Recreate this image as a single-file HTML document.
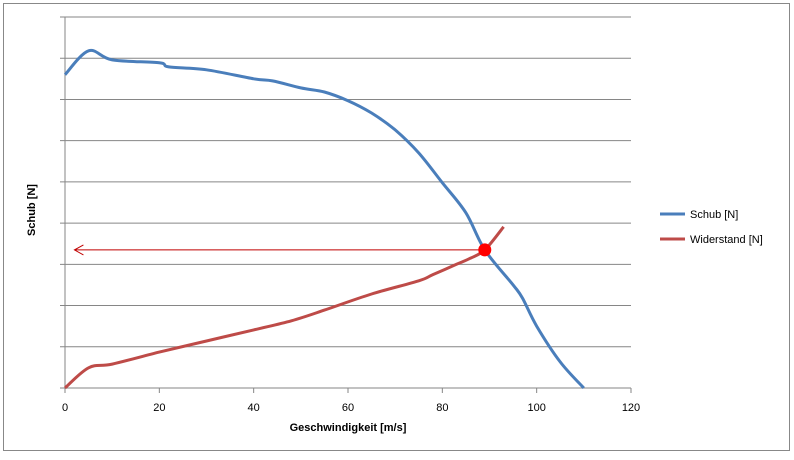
<!DOCTYPE html>
<html><head><meta charset="utf-8"><style>
body{margin:0;background:#fff;font-family:"Liberation Sans",sans-serif;}
svg text{font-family:"Liberation Sans",sans-serif;}
</style></head><body>
<svg width="794" height="455" xmlns="http://www.w3.org/2000/svg">
<rect x="3.5" y="3.5" width="786" height="447" fill="#fff" stroke="#888"/>
<g id="grid"></g>
<g id="xticks"></g>
<line x1="65" y1="17" x2="65" y2="388" stroke="#868686"/>
<text x="0" y="0" transform="translate(35,210) rotate(-90)" text-anchor="middle" font-size="11" font-weight="bold">Schub [N]</text>
<text x="348" y="431" text-anchor="middle" font-size="11" font-weight="bold">Geschwindigkeit  [m/s]</text>
<g id="series"></g>
<g>
<line x1="660" y1="214" x2="685" y2="214" stroke="#4a7ebb" stroke-width="3"/>
<text x="690" y="218" font-size="11">Schub [N]</text>
<line x1="660" y1="239" x2="685" y2="239" stroke="#be4b48" stroke-width="3"/>
<text x="690" y="243" font-size="11">Widerstand  [N]</text>
</g>
</svg>
<script>
const xTicks=[0,20,40,60,80,100,120];
const yGridCount=9;
const schubX=[0,5,10,20,22,30,40,44,50,55,60,65,70,75,80,85,89,95,97,100,105,110];
const schubY=[7.6,8.18,7.96,7.89,7.79,7.72,7.5,7.45,7.28,7.18,6.97,6.67,6.26,5.7,4.98,4.25,3.35,2.5,2.18,1.5,0.63,0];
const widX=[0,5,10,20,30,40,48,55,65,75,78,83,86,89,93];
const widY=[0,0.49,0.58,0.87,1.14,1.41,1.63,1.89,2.28,2.6,2.75,3.0,3.15,3.35,3.91];
const opX=89, opY=3.35;
const NS="http://www.w3.org/2000/svg";
const sx=v=>65+v*(631-65)/120;
const sy=v=>388-v*(388-17)/9;
function mk(t,a,p){const e=document.createElementNS(NS,t);for(const k in a)e.setAttribute(k,a[k]);p.appendChild(e);return e;}
const grid=document.getElementById('grid');
for(let i=0;i<=yGridCount;i++){
 const l=mk('line',{x1:60,x2:631,y1:sy(i),y2:sy(i),stroke:'#868686'},grid);
 
 
}
const xt=document.getElementById('xticks');
xTicks.forEach(v=>{
 const l=mk('line',{x1:sx(v),x2:sx(v),y1:388,y2:393,stroke:'#868686'},xt);
 
 
 const t=mk('text',{x:sx(v),y:411,'text-anchor':'middle','font-size':11},xt);
 t.textContent=v;
 
 
});
function path(xs,ys){
 const P=xs.map((x,i)=>[sx(x),sy(ys[i])]);
 let d='M'+P[0][0].toFixed(1)+','+P[0][1].toFixed(1);
 for(let i=0;i<P.length-1;i++){
  const p0=P[i-1]||P[i],p1=P[i],p2=P[i+1],p3=P[i+2]||P[i+1];
  const c1=[p1[0]+(p2[0]-p0[0])/6,p1[1]+(p2[1]-p0[1])/6];
  const c2=[p2[0]-(p3[0]-p1[0])/6,p2[1]-(p3[1]-p1[1])/6];
  d+='C'+c1[0].toFixed(1)+','+c1[1].toFixed(1)+' '+c2[0].toFixed(1)+','+c2[1].toFixed(1)+' '+p2[0].toFixed(1)+','+p2[1].toFixed(1);
 }
 return d;
}
const s=document.getElementById('series');
const p1=mk('path',{d:path(schubX,schubY),fill:'none',stroke:'#4a7ebb','stroke-width':3,'stroke-linejoin':'round'},s);


const p2=mk('path',{d:path(widX,widY),fill:'none',stroke:'#be4b48','stroke-width':3,'stroke-linejoin':'round'},s);


const ar=mk('path',{d:`M${sx(opX)},${sy(opY)}L${sx(2)},${sy(opY)}M${sx(2)+9},${sy(opY)-5}L${sx(2)},${sy(opY)}L${sx(2)+9},${sy(opY)+5}`,fill:'none',stroke:'#c00000','stroke-width':1},s);


const c=mk('circle',{cx:sx(opX),cy:sy(opY),r:6.5,fill:'#ff0000'},s);


</script>
</body></html>
